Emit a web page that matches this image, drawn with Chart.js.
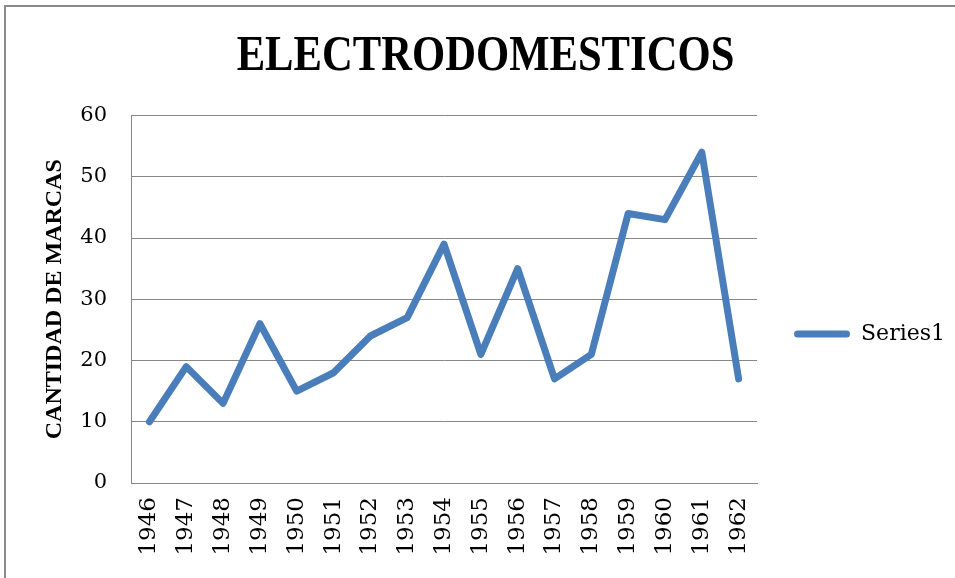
<!DOCTYPE html>
<html>
<head>
<meta charset="utf-8">
<script src="https://cdn.jsdelivr.net/npm/chart.js@4.4.1/dist/chart.umd.min.js"></script>
<style>
  html, body { margin: 0; padding: 0; background: #fff; }
  #wrap { position: relative; width: 955px; height: 578px; overflow: hidden; }
  #frame { position: absolute; left: 4px; top: 5px; right: -10px; bottom: -10px;
           border-top: 2px solid #8a8a8a; border-left: 2px solid #8a8a8a; pointer-events: none; z-index: 2; }
  canvas { position: absolute; left: 0; top: 0; }
</style>
</head>
<body>
<div id="wrap">
  <canvas id="c" width="955" height="578"></canvas>
  <div id="frame"></div>
</div>
<script>
const TITLE = 'ELECTRODOMESTICOS';
const Y_TITLE = 'CANTIDAD DE MARCAS';
const SERIES_NAME = 'Series1';
const years = ['1946','1947','1948','1949','1950','1951','1952','1953','1954','1955','1956','1957','1958','1959','1960','1961','1962'];
const marcas = [10, 19, 13, 26, 15, 18, 24, 27, 39, 21, 35, 17, 21, 44, 43, 54, 17];
const yTicks = [0, 10, 20, 30, 40, 50, 60];

const LINE_COLOR = '#4A7EBB';
const GRID_COLOR = '#878787';
const TITLE_SCALE_X = 0.853;
const TITLE_SHIFT_X = 8;
const LEGEND_TOP = 90;

const squeezeTitle = {
  id: 'squeezeTitle',
  afterLayout(chart) {
    if (chart.legend) {
      const b = chart.legend.bottom;
      chart.legend.top = LEGEND_TOP;
      chart.legend.height = b - LEGEND_TOP;
    }
  },
  beforeDraw(chart) {
    const t = chart.titleBlock;
    if (!t || t._squeezed) return;
    const orig = t.draw.bind(t);
    t.draw = function () {
      const ctx = chart.ctx;
      const cx = (t.left + t.right) / 2;
      ctx.save();
      ctx.translate(cx + TITLE_SHIFT_X, 0);
      ctx.scale(TITLE_SCALE_X, 1);
      ctx.translate(-cx, 0);
      orig();
      ctx.restore();
    };
    t._squeezed = true;
  }
};

new Chart(document.getElementById('c'), {
  type: 'line',
  data: {
    labels: years,
    datasets: [{
      label: SERIES_NAME,
      data: marcas,
      borderColor: LINE_COLOR,
      backgroundColor: LINE_COLOR,
      borderWidth: 7,
      borderCapStyle: 'round',
      borderJoinStyle: 'round',
      pointRadius: 0,
      pointHoverRadius: 0,
      tension: 0,
      fill: false
    }]
  },
  options: {
    responsive: false,
    animation: false,
    layout: { padding: 0 },
    plugins: {
      tooltip: { enabled: false },
      title: {
        display: true,
        text: TITLE,
        color: '#000',
        font: { family: 'Liberation Serif', size: 50, weight: 'bold', lineHeight: 1.2 },
        padding: { top: 27.5, bottom: 28 }
      },
      legend: {
        position: 'right',
        maxWidth: 198,
        labels: {
          color: '#000',
          font: { family: 'DejaVu Serif', size: 22 },
          boxWidth: 56,
          boxHeight: 7,
          padding: 37,
          useBorderRadius: true,
          borderRadius: 3.5,
          generateLabels(chart) {
            const items = Chart.defaults.plugins.legend.labels.generateLabels(chart);
            items.forEach(it => { it.lineWidth = 0; it.fillStyle = LINE_COLOR; it.strokeStyle = LINE_COLOR; });
            return items;
          }
        }
      }
    },
    scales: {
      x: {
        type: 'category',
        offset: true,
        grid: { display: false, drawTicks: false },
        border: { display: true, color: GRID_COLOR, width: 1 },
        ticks: {
          color: '#000',
          font: { family: 'DejaVu Serif', size: 23 },
          minRotation: 90, maxRotation: 90,
          padding: 14,
          autoSkip: false
        },
        afterFit(scale) { scale.height = 95; }
      },
      y: {
        min: 0, max: 60,
        afterBuildTicks(scale) { scale.ticks = yTicks.map(v => ({ value: v })); },
        grid: { color: GRID_COLOR, lineWidth: 1, drawTicks: false },
        border: { display: true, color: GRID_COLOR, width: 1 },
        ticks: {
          color: '#000',
          font: { family: 'DejaVu Serif', size: 21 },
          padding: 24
        },
        title: {
          display: true,
          text: Y_TITLE,
          color: '#000',
          font: { family: 'Liberation Serif', size: 24, weight: 'bold', lineHeight: 1.2 },
          padding: { top: 40, bottom: 0 }
        },
        afterFit(scale) { scale.width = 131; }
      }
    }
  },
  plugins: [squeezeTitle]
});
</script>
</body>
</html>
